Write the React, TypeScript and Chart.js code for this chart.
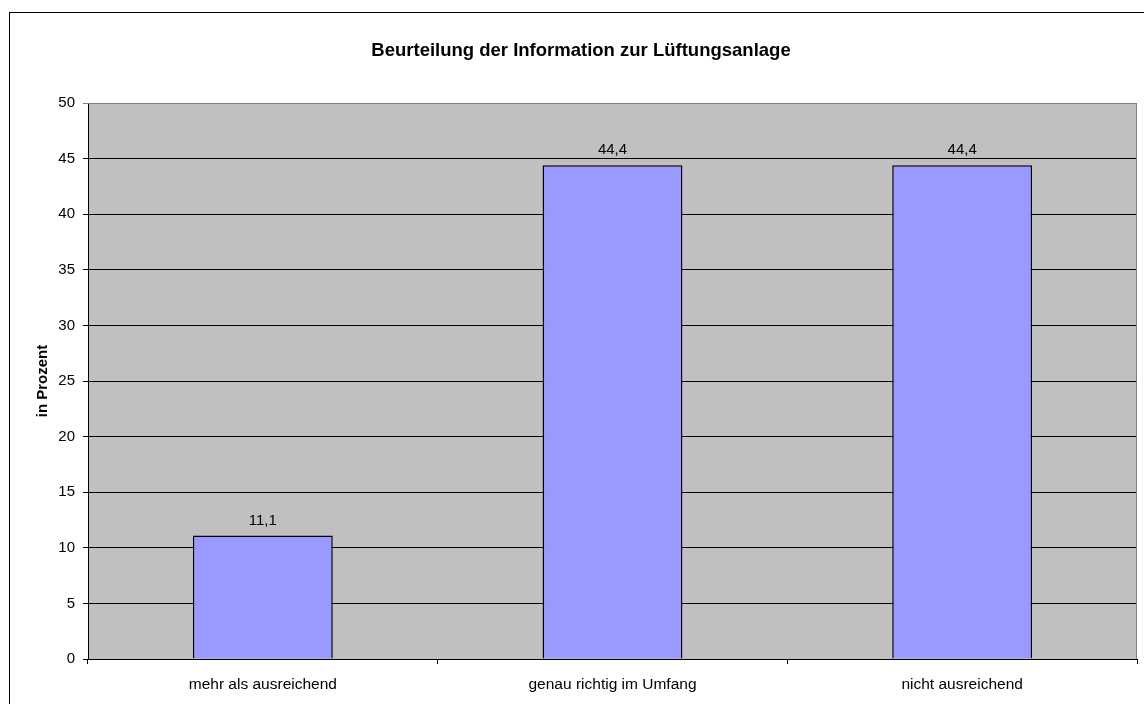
import React, { useEffect, useRef } from "react";
import { Chart, registerables } from "chart.js";

Chart.register(...registerables);

const title = "Beurteilung der Information zur Lüftungsanlage";
const yAxisTitle = "in Prozent";
const categories = ["mehr als ausreichend", "genau richtig im Umfang", "nicht ausreichend"];
const values = [11.1, 44.4, 44.4];
const valueLabels = ["11,1", "44,4", "44,4"];
const yTicks = [0, 5, 10, 15, 20, 25, 30, 35, 40, 45, 50];

const FONT = "'Liberation Sans', Arial, sans-serif";

const decorPlugin = {
  id: "decor",
  beforeDraw(chart: any) {
    const { ctx, chartArea } = chart;
    ctx.save();
    ctx.fillStyle = "#ffffff";
    ctx.fillRect(0, 0, chart.width, chart.height);
    ctx.fillStyle = "#C0C0C0";
    ctx.fillRect(chartArea.left, chartArea.top, chartArea.right - chartArea.left, chartArea.bottom - chartArea.top);
    ctx.restore();
  },
  afterDraw(chart: any) {
    const { ctx, chartArea } = chart;
    ctx.save();
    // outer border
    ctx.strokeStyle = "#000000";
    ctx.lineWidth = 1;
    ctx.strokeRect(9.5, 12.5, 1160, 720);
    // plot area right & top border (gray)
    ctx.strokeStyle = "#808080";
    ctx.beginPath();
    ctx.moveTo(chartArea.left, chartArea.top + 0.5);
    ctx.lineTo(chartArea.right - 0.5, chartArea.top + 0.5);
    ctx.lineTo(chartArea.right - 0.5, chartArea.bottom);
    ctx.stroke();
    // title
    ctx.fillStyle = "#000000";
    ctx.font = `bold 18.5px ${FONT}`;
    ctx.textAlign = "center";
    ctx.textBaseline = "alphabetic";
    ctx.fillText(title, 581, 56);
    // y-axis title
    ctx.font = `bold 15px ${FONT}`;
    ctx.translate(47, (chartArea.top + chartArea.bottom) / 2);
    ctx.rotate(-Math.PI / 2);
    ctx.textAlign = "center";
    ctx.textBaseline = "alphabetic";
    ctx.fillText(yAxisTitle, 0, 0);
    ctx.restore();
    // value labels
    ctx.save();
    ctx.font = `15px ${FONT}`;
    ctx.fillStyle = "#000000";
    ctx.textAlign = "center";
    ctx.textBaseline = "alphabetic";
    const meta = chart.getDatasetMeta(0);
    meta.data.forEach((bar: any, i: number) => {
      ctx.fillText(valueLabels[i], bar.x, bar.y - 11);
    });
    ctx.restore();
  },
};

export default function App() {
  const ref = useRef<HTMLCanvasElement>(null);
  useEffect(() => {
    if (!ref.current) return;
    const chart = new Chart(ref.current, {
      type: "bar",
      data: {
        labels: categories,
        datasets: [
          {
            data: values,
            backgroundColor: "#9999FF",
            borderColor: "#000000",
            borderWidth: 1.5,
            categoryPercentage: 0.4,
            barPercentage: 1,
          },
        ],
      },
      plugins: [decorPlugin],
      options: {
        animation: false,
        responsive: false,
        devicePixelRatio: 1,
        layout: { padding: { left: 0, top: 103, right: 7, bottom: 0 } },
        plugins: {
          legend: { display: false },
          tooltip: { enabled: false },
          title: { display: false },
        },
        scales: {
          x: {
            grid: {
              offset: true,
              drawOnChartArea: false,
              drawTicks: true,
              tickLength: 5,
              color: "#000000",
            },
            border: { color: "#000000", width: 1 },
            ticks: {
              color: "#000000",
              font: { family: FONT, size: 15.5 },
              padding: 11,
              maxRotation: 0,
            },
            afterFit(scale: any) {
              scale.height = 45;
            },
          },
          y: {
            min: 0,
            max: 50,
            afterBuildTicks(scale: any) {
              scale.ticks = yTicks.map((v) => ({ value: v }));
            },
            grid: {
              color: (c: any) => (c.tick && c.tick.value === 50 ? "#808080" : "#000000"),
              tickLength: 5,
              drawTicks: true,
            },
            border: { color: "#000000", width: 1 },
            ticks: {
              color: "#000000",
              font: { family: FONT, size: 15 },
              padding: 8,
            },
            afterFit(scale: any) {
              scale.width = 88;
            },
          },
        },
      },
    } as any);
    return () => chart.destroy();
  }, []);
  return (
    <div style={{ position: "absolute", left: 0, top: 0, width: 1144, height: 704 }}>
      <canvas ref={ref} width={1144} height={704} style={{ display: "block" }} />
    </div>
  );
}
